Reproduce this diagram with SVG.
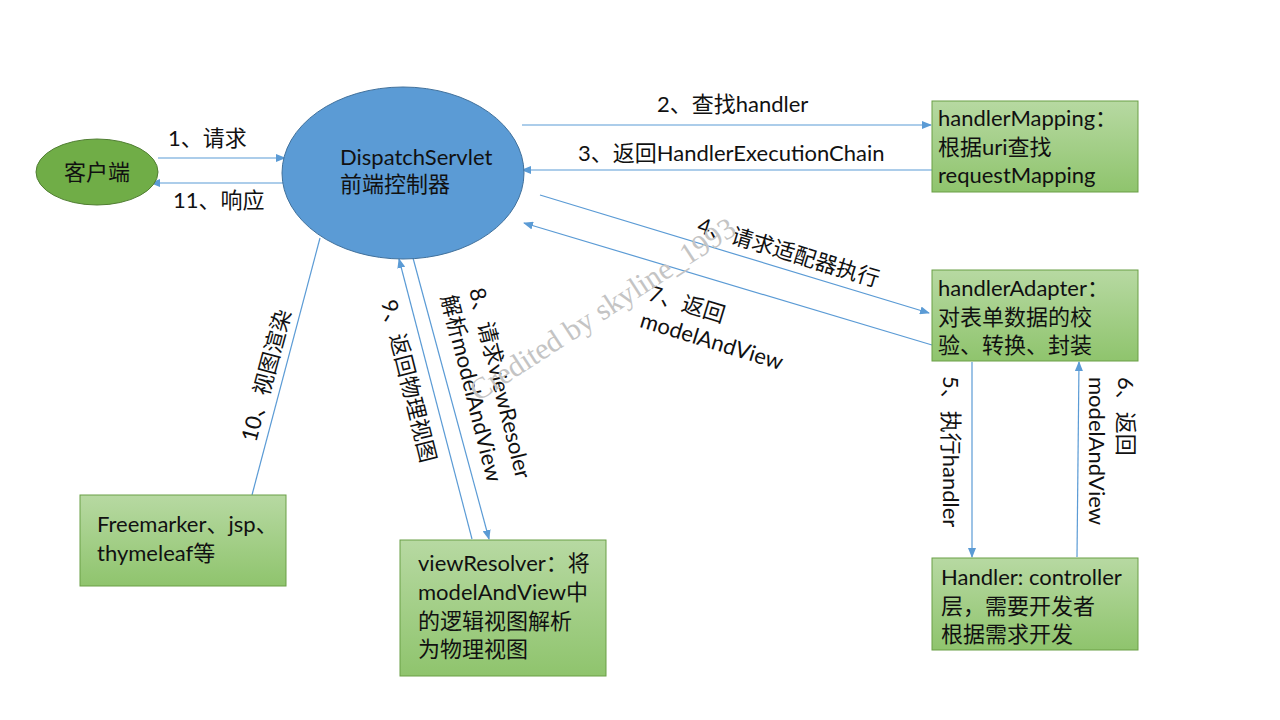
<svg xmlns="http://www.w3.org/2000/svg" width="1280" height="720" viewBox="0 0 1280 720">
<defs>
<linearGradient id="g" x1="0" y1="0" x2="0" y2="1">
<stop offset="0" stop-color="#b7d9a2"/>
<stop offset="1" stop-color="#8fc46d"/>
</linearGradient>
<marker id="ah" markerUnits="userSpaceOnUse" markerWidth="10" markerHeight="8" refX="9" refY="4" orient="auto">
<path d="M0,0 L10,4 L0,8 Z" fill="#5b9bd5"/>
</marker>
<style>
text{font-family:Lato,"Noto Sans CJK SC",sans-serif;font-size:22px;fill:#111}
.box{fill:url(#g);stroke:#6a9f46;stroke-width:1}
.ln{stroke:#5b9bd5;stroke-width:1.2;fill:none}
.ar{marker-end:url(#ah)}
.wm{font-family:"Liberation Serif",serif;font-size:30px;fill:#c4c4c4}
</style>
</defs>
<rect width="1280" height="720" fill="#fff"/>

<g id="connectors">
<line class="ln ar" x1="158" y1="158" x2="285" y2="158"/>
<line class="ln ar" x1="283" y1="183" x2="151" y2="183"/>
<line class="ln ar" x1="522" y1="125" x2="931" y2="125"/>
<line class="ln ar" x1="932" y1="170" x2="522" y2="170"/>
<line class="ln ar" x1="540" y1="195" x2="929" y2="313"/>
<line class="ln ar" x1="932" y1="345" x2="524" y2="223"/>
<line class="ln ar" x1="972" y1="362" x2="972" y2="557"/>
<line class="ln ar" x1="1077" y1="557" x2="1079" y2="362"/>
<line class="ln" x1="252" y1="495" x2="320" y2="238"/>
<line class="ln ar" x1="413" y1="258" x2="489" y2="539"/>
<line class="ln ar" x1="472" y1="539" x2="399" y2="259"/>

<text x="168" y="146">1、请求</text>
<text x="173" y="208">11、响应</text>
<text x="657" y="112">2、查找handler</text>
<text x="578" y="161">3、返回HandlerExecutionChain</text>
<text transform="translate(696,232) rotate(17)">4、请求适配器执行</text>
<text transform="translate(647,300) rotate(17)"><tspan x="0" y="0">7、返回</tspan><tspan x="0" y="28">modelAndView</tspan></text>
<text transform="translate(943,376) rotate(90)">5、执行handler</text>
<text transform="translate(1118,377) rotate(90)"><tspan x="0" y="0">6、返回</tspan><tspan x="0" y="29">modelAndView</tspan></text>
<text transform="translate(469,290) rotate(76)"><tspan x="0" y="0">8、请求viewResoler</tspan><tspan x="0" y="29">解析modelAndView</tspan></text>
<text transform="translate(381,302) rotate(76)">9、返回物理视图</text>
<text transform="translate(256,443) rotate(-75)">10、视图渲染</text>
</g>

<g id="client">
<ellipse cx="97" cy="172" rx="61" ry="33" fill="#70ad47" stroke="#507e32"/>
<text x="97" y="180" text-anchor="middle">客户端</text>
</g>

<g id="dispatcher">
<ellipse cx="403" cy="173" rx="121" ry="86" fill="#5b9bd5" stroke="#41719c"/>
<text x="340" y="165">DispatchServlet</text>
<text x="340" y="192">前端控制器</text>
</g>

<g id="handlerMapping">
<rect class="box" x="932" y="101" width="206" height="91"/>
<text x="938" y="126">handlerMapping：</text>
<text x="938" y="155">根据uri查找</text>
<text x="938" y="183">requestMapping</text>
</g>

<g id="handlerAdapter">
<rect class="box" x="932" y="270" width="206" height="91"/>
<text x="938" y="296">handlerAdapter：</text>
<text x="938" y="325">对表单数据的校</text>
<text x="938" y="353">验、转换、封装</text>
</g>

<g id="handler">
<rect class="box" x="932" y="558" width="206" height="92"/>
<text x="941" y="585">Handler: controller</text>
<text x="941" y="614">层，需要开发者</text>
<text x="941" y="642">根据需求开发</text>
</g>

<g id="viewTech">
<rect class="box" x="80" y="495" width="206" height="91"/>
<text x="97" y="532">Freemarker、jsp、</text>
<text x="97" y="561">thymeleaf等</text>
</g>

<g id="viewResolver">
<rect class="box" x="400" y="540" width="206" height="136"/>
<text x="418" y="571">viewResolver：将</text>
<text x="418" y="600">modelAndView中</text>
<text x="418" y="629">的逻辑视图解析</text>
<text x="418" y="657">为物理视图</text>
</g>

<text class="wm" transform="translate(478,402) rotate(-33)">Credited by skyline_1993</text>
</svg>
